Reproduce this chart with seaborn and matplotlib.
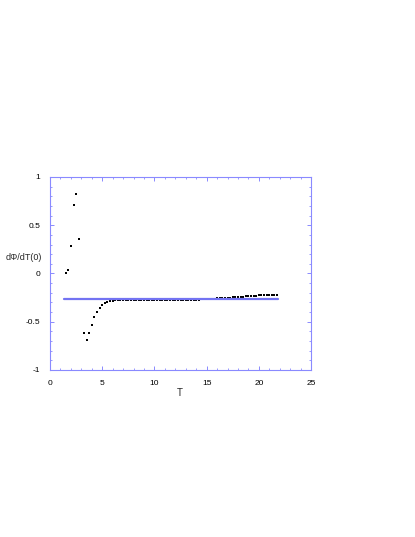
import numpy as np
import pandas as pd
import matplotlib
matplotlib.use('Agg')
import matplotlib.pyplot as plt
from matplotlib.ticker import MultipleLocator
import seaborn as sns

# data
T_vals = [1.50, 1.75, 2.00, 2.25, 2.50, 2.75, 3.00, 3.25, 3.50, 3.75,
          4.00, 4.25, 4.50, 4.75, 5.00, 5.25, 5.50, 5.75, 6.00, 6.25,
          6.50, 6.75, 7.00, 7.25, 7.50, 7.75, 8.00, 8.25, 8.50, 8.75,
          9.00, 9.25, 9.50, 9.75, 10.00, 10.25, 10.50, 10.75, 11.00, 11.25,
          11.50, 11.75, 12.00, 12.25, 12.50, 12.75, 13.00, 13.25, 13.50, 13.75,
          14.00, 14.25, 14.50, 14.75, 15.00, 15.25, 15.50, 15.75, 16.00, 16.25,
          16.50, 16.75, 17.00, 17.25, 17.50, 17.75, 18.00, 18.25, 18.50, 18.75,
          19.00, 19.25, 19.50, 19.75, 20.00, 20.25, 20.50, 20.75, 21.00, 21.25,
          21.50, 21.75]
dphi_vals = [0.000, 0.035, 0.290, 0.710, 0.820, 0.360, -0.265, -0.620, -0.690, -0.620,
             -0.530, -0.450, -0.400, -0.360, -0.330, -0.308, -0.293, -0.285, -0.281, -0.279,
             -0.278, -0.277, -0.277, -0.276, -0.276, -0.276, -0.276, -0.276, -0.276, -0.276,
             -0.276, -0.276, -0.276, -0.276, -0.276, -0.276, -0.276, -0.276, -0.276, -0.276,
             -0.276, -0.276, -0.275, -0.275, -0.275, -0.274, -0.274, -0.273, -0.273, -0.272,
             -0.271, -0.270, -0.269, -0.268, -0.266, -0.265, -0.263, -0.261, -0.259, -0.257,
             -0.255, -0.253, -0.251, -0.249, -0.247, -0.245, -0.243, -0.241, -0.239, -0.237,
             -0.235, -0.233, -0.231, -0.229, -0.227, -0.225, -0.224, -0.222, -0.221, -0.220,
             -0.219, -0.218]

# horizontal reference line
line_T = [1.35, 21.8]
line_val = [-0.262, -0.262]

sns.set_theme(style="white")
plt.rcParams['font.family'] = ['Liberation Sans', 'DejaVu Sans']

frame_col = '#8a8aff'

fig = plt.figure(figsize=(4.15, 5.37), dpi=100)
ax = fig.add_axes([0.1205, 0.311, 0.629, 0.3594])

sns.lineplot(x=line_T, y=line_val, ax=ax, color='#7373f2', linewidth=1.6)
df = pd.DataFrame({'T': T_vals, 'v': dphi_vals})
sns.scatterplot(data=df, x='T', y='v', ax=ax, color='black', marker='s', s=3, linewidth=0)

ax.set_xlim(0, 25)
ax.set_ylim(-1, 1)
ax.xaxis.set_minor_locator(MultipleLocator(1))
ax.yaxis.set_minor_locator(MultipleLocator(0.1))
ax.set_xticks([0, 5, 10, 15, 20, 25])
ax.set_xticklabels(['0', '5', '10', '15', '20', '25'])
ax.set_yticks([-1, -0.5, 0, 0.5, 1])
ax.set_yticklabels(['-1', '-0.5', '0', '0.5', '1'])

for sp in ax.spines.values():
    sp.set_color(frame_col)
    sp.set_linewidth(0.8)
ax.tick_params(which='both', direction='in', top=True, right=True, left=True, bottom=True,
               color=frame_col, labelsize=6, labelcolor='black')
ax.tick_params(which='major', length=3, width=0.7, pad=7)
ax.tick_params(which='minor', length=1.5, width=0.6)

ax.set_xlabel('T', fontsize=7)
ax.xaxis.set_label_coords(0.498, -0.093)
ax.set_ylabel('dΦ/dT(0)', fontsize=6.5, rotation=0, ha='center', va='center')
ax.yaxis.set_label_coords(-0.1, 0.585)

fig.savefig('out.png', dpi=100)
